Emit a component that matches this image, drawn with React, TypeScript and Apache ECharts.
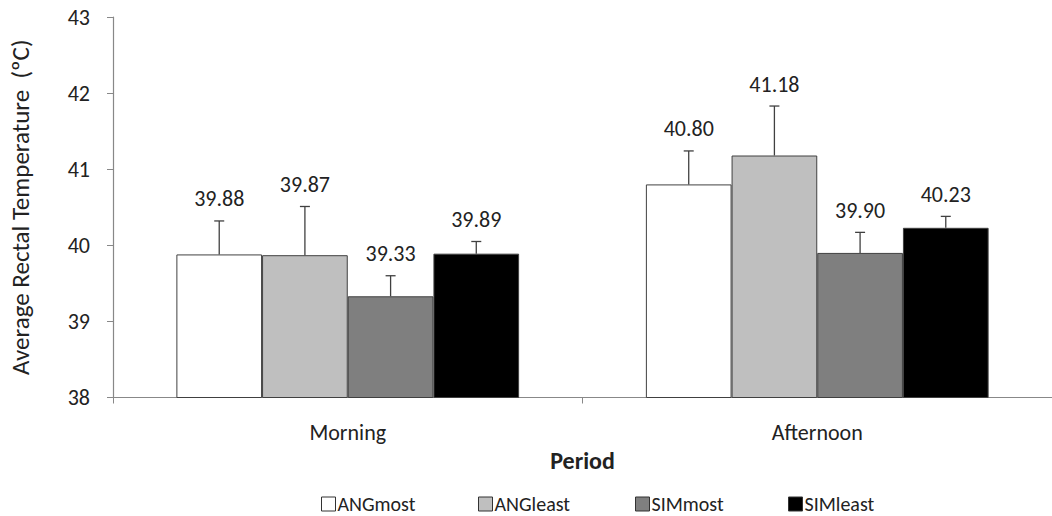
import React, { useEffect, useRef } from "react";
import * as echarts from "echarts";

const categories = ["Morning", "Afternoon"];
const seriesNames = ["ANGmost", "ANGleast", "SIMmost", "SIMleast"];
const angMost = [39.88, 40.8];
const angLeast = [39.87, 41.18];
const simMost = [39.33, 39.9];
const simLeast = [39.89, 40.23];
const angMostErr = [0.44, 0.44];
const angLeastErr = [0.64, 0.65];
const simMostErr = [0.27, 0.27];
const simLeastErr = [0.16, 0.15];
const yTicks = [38, 39, 40, 41, 42, 43];

const FONT = "Carlito, Calibri, Lato, 'Open Sans', sans-serif";
const colors = ["#ffffff", "#bfbfbf", "#7f7f7f", "#000000"];
const legendLefts = [321, 478, 635, 788];

export default function App() {
  const ref = useRef<HTMLDivElement>(null);
  useEffect(() => {
    document.body.style.margin = "0";
    if (!ref.current) return;
    const chart = echarts.init(ref.current, undefined, { renderer: "svg" });
    const values = [angMost, angLeast, simMost, simLeast];
    const errs = [angMostErr, angLeastErr, simMostErr, simLeastErr];
    const nSeries = values.length;
    const catGap = 0.27;

    const errData: number[][] = [];
    values.forEach((vals, s) => {
      vals.forEach((v, c) => {
        errData.push([c, v, errs[s][c], s]);
      });
    });

    const barSeries = values.map((vals, s) => ({
      type: "bar",
      name: seriesNames[s],
      data: vals,
      barGap: "0%",
      barCategoryGap: catGap * 100 + "%",
      itemStyle: { color: colors[s], borderColor: "#404040", borderWidth: 1 },
    }));

    chart.setOption({
      animation: false,
      textStyle: { fontFamily: FONT },
      grid: { left: 113, right: -2, top: 17, bottom: 118.5 },
      legend: seriesNames.map((n, i) => ({
        left: legendLefts[i],
        top: 494,
        padding: 0,
        itemWidth: 14,
        itemHeight: 14,
        icon: "rect",
        data: [{ name: n, itemStyle: { borderColor: "#333", borderWidth: 1 } }],
        textStyle: { fontSize: 20, color: "#222", fontFamily: FONT, padding: [0, 0, 0, -3] },
      })),
      xAxis: {
        type: "category",
        data: categories,
        name: "Period",
        nameLocation: "middle",
        nameGap: 42,
        nameTextStyle: { fontSize: 24, fontWeight: "bold", color: "#222", fontFamily: FONT },
        axisLine: { lineStyle: { color: "#888", width: 1.2 } },
        axisTick: { show: true, length: 6, lineStyle: { color: "#888" } },
        axisLabel: { fontSize: 22, color: "#222", margin: 24, fontFamily: FONT },
      },
      yAxis: {
        type: "value",
        min: yTicks[0],
        max: yTicks[yTicks.length - 1],
        interval: 1,
        name: "Average Rectal Temperature  (ºC)",
        nameLocation: "middle",
        nameGap: 80,
        nameTextStyle: { fontSize: 25, color: "#222", fontFamily: FONT },
        axisLine: { show: true, lineStyle: { color: "#888", width: 1.2 } },
        axisTick: { show: true, length: 6, lineStyle: { color: "#888" } },
        splitLine: { show: false },
        axisLabel: { fontSize: 22, color: "#222", margin: 23, fontFamily: FONT },
      },
      series: [
        ...barSeries,
        {
          type: "custom",
          data: errData,
          z: 10,
          silent: true,
          renderItem: (params: any, api: any) => {
            const c = api.value(0);
            const v = api.value(1);
            const e = api.value(2);
            const s = api.value(3);
            const band = api.size([1, 0])[0];
            const bw = (band * (1 - catGap)) / nSeries;
            const center = api.coord([c, v]);
            const x = center[0] + (s - (nSeries - 1) / 2) * bw;
            const y0 = center[1];
            const y1 = api.coord([c, v + e])[1];
            const stroke = { stroke: "#404040", lineWidth: 1.3 };
            return {
              type: "group",
              children: [
                { type: "line", shape: { x1: x, y1: y0, x2: x, y2: y1 }, style: stroke },
                { type: "line", shape: { x1: x - 5, y1: y1, x2: x + 5, y2: y1 }, style: stroke },
                {
                  type: "text",
                  style: {
                    text: v.toFixed(2),
                    x: x,
                    y: y1 - 22,
                    align: "center",
                    verticalAlign: "middle",
                    textAlign: "center",
                    textVerticalAlign: "middle",
                    fontSize: 22,
                    fontFamily: FONT,
                    fill: "#222",
                  },
                },
              ],
            };
          },
        },
      ],
    });
    return () => chart.dispose();
  }, []);
  return <div ref={ref} style={{ width: 1052, height: 516 }} />;
}
